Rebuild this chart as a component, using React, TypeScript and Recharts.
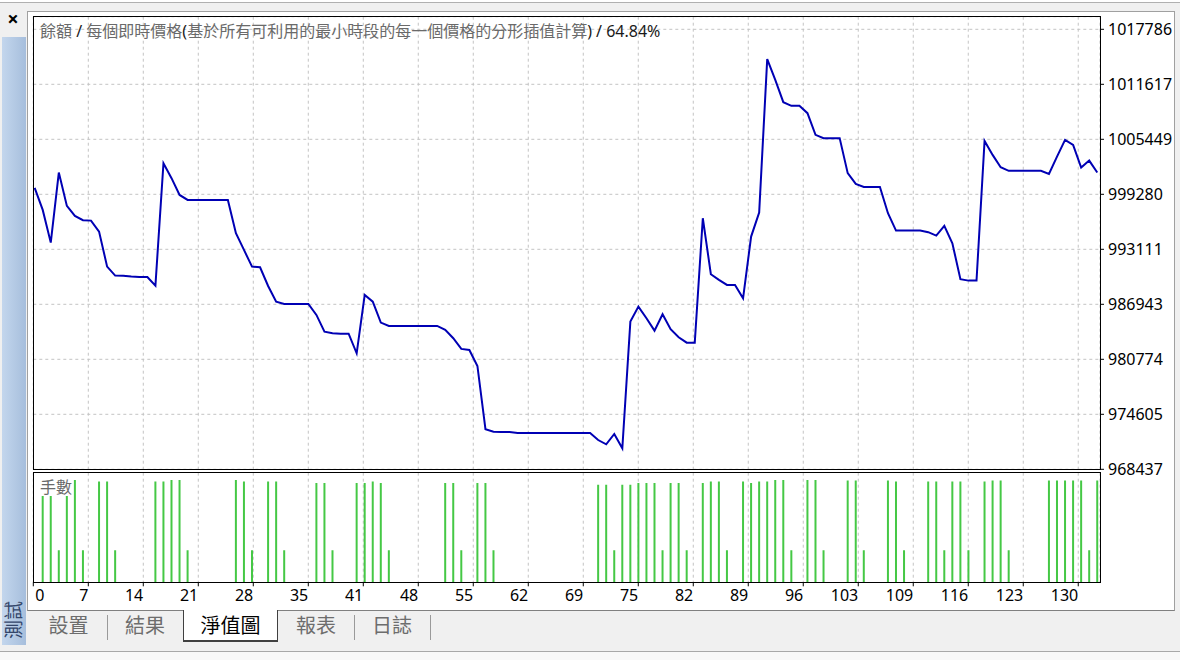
import React from "react";
import { LineChart, Line, BarChart, Bar, XAxis, YAxis, CartesianGrid } from "recharts";

// balance after each trade (trade number = index)
const equity = [
  1000000, 997530, 993860, 1001720, 997980, 996860, 996380, 996330, 995100, 991170,
  990160, 990150, 990050, 990010, 990010, 989040, 1002770, 1001090, 999210, 998650,
  998650, 998650, 998650, 998650, 998650, 994920, 993040, 991170, 991100, 989000,
  987240, 986980, 986980, 986980, 986980, 985750, 983880, 983700, 983650, 983650,
  981450, 987990, 987240, 984890, 984520, 984520, 984520, 984520, 984520, 984520,
  984520, 984070, 983140, 981940, 981820, 980030, 972930, 972660, 972620, 972620,
  972510, 972510, 972510, 972510, 972510, 972510, 972510, 972510, 972510, 972510,
  971720, 971240, 972400, 970790, 985000, 986680, 985380, 983990, 985830, 984150,
  983250, 982640, 982640, 996600, 990320, 989680, 989120, 989120, 987620, 994540,
  997230, 1014440, 1012120, 1009610, 1009200, 1009200, 1008380, 1005950, 1005580, 1005580,
  1005580, 1001650, 1000450, 1000110, 1000110, 1000110, 997160, 995210, 995210, 995210,
  995210, 995030, 994650, 995740, 993790, 989760, 989600, 989600, 1005270, 1003700,
  1002320, 1001910, 1001910, 1001910, 1001910, 1001910, 1001570, 1003510, 1005380, 1004820,
  1002280, 1003060, 1001720,
];

// lots per trade (0 = no bar)
const lots = [
  0, 0.27, 0.27, 0.1, 0.27, 0.32, 0.1, 0, 0.315, 0.315,
  0.1, 0, 0, 0, 0, 0.315, 0.315, 0.32, 0.32, 0.1,
  0, 0, 0, 0, 0, 0.32, 0.315, 0.1, 0, 0.315,
  0.315, 0.1, 0, 0, 0, 0.31, 0.31, 0.1, 0, 0,
  0.31, 0.31, 0.315, 0.31, 0.1, 0, 0, 0, 0, 0,
  0, 0.31, 0.31, 0.1, 0, 0.31, 0.31, 0.1, 0, 0,
  0, 0, 0, 0, 0, 0, 0, 0, 0, 0,
  0.305, 0.305, 0.1, 0.305, 0.305, 0.31, 0.31, 0.31, 0.1, 0.31,
  0.31, 0.1, 0, 0.31, 0.315, 0.315, 0.1, 0, 0.315, 0.31,
  0.315, 0.315, 0.32, 0.32, 0.1, 0, 0.32, 0.32, 0.1, 0,
  0, 0.318, 0.318, 0.1, 0, 0, 0.318, 0.315, 0.1, 0,
  0, 0.315, 0.315, 0.1, 0.315, 0.315, 0.1, 0, 0.315, 0.318,
  0.318, 0.1, 0, 0, 0, 0, 0.318, 0.318, 0.318, 0.318,
  0.318, 0.1, 0.318,
];

const yTickLabels = [968437, 974605, 980774, 986943, 993111, 999280, 1005449, 1011617, 1017786];
const xTickLabels = [0, 7, 14, 21, 28, 35, 41, 48, 55, 62, 69, 75, 82, 89, 96, 103, 109, 116, 123, 130];
const tabs = ["設置", "結果", "淨值圖", "報表", "日誌"];

const X_MIN = -0.17;
const X_MAX = 132.34;
const X_STEP = 6.832;
const Y_MIN = 968437;
const Y_MAX = 1019200;
const LOT_MAX = 0.3425;

const FONT = '"Noto Sans", "Noto Sans CJK TC", sans-serif';
const GRAY = "#6a6a6a";
const DARK = "#1a1a1a";

const xGridTicks = xTickLabels.map((_, k) => X_MIN + k * X_STEP);
const equityData = equity.map((v, i) => ({ i, v }));
const lotData = lots.map((v, i) => ({ i, v: v > 0 ? v : null }));

const XTick = (props: any) => {
  const { x, y, payload, index } = props;
  const k = typeof index === "number" ? index : xGridTicks.indexOf(payload.value);
  const first = k === 0;
  return (
    <text
      x={first ? x + 2 : x}
      y={y}
      dy={15}
      textAnchor={first ? "start" : "end"}
      fontSize={16}
      fill="#000"
      fontFamily={FONT}
    >
      {xTickLabels[k]}
    </text>
  );
};

const NoTick = () => <g />;

const abs = (s: React.CSSProperties): React.CSSProperties => ({ position: "absolute", ...s });

const tabLefts = [30, 107, 183, 278, 354];
const tabWidths = [77, 76, 95, 76, 76];

const App = () => {
  return (
    <div style={abs({ left: 0, top: 0, width: 1180, height: 660, background: "#f0f0f0", overflow: "hidden", fontFamily: FONT, position: "fixed" })}>
      {/* window top edge */}
      <div style={abs({ left: 0, top: 0, width: 1180, height: 2, background: "#fff" })} />
      <div style={abs({ left: 0, top: 2, width: 1180, height: 1, background: "#b0b0b0" })} />

      {/* close button */}
      <div style={abs({ left: 3, top: 9, width: 20, height: 20, lineHeight: "20px", textAlign: "center", fontSize: 20, fontWeight: 700, color: "#000" })}>×</div>

      {/* vertical caption strip */}
      <div style={abs({ left: 2, top: 37, width: 24, height: 608, background: "linear-gradient(to right, #c3d6ed, #a6bedc)", overflow: "hidden" })}>
        <div style={abs({ left: -8, top: 573, width: 40, height: 20, lineHeight: "20px", fontSize: 19, color: "#34466a", transform: "rotate(-90deg)", textAlign: "center" })}>
          測試
        </div>
      </div>

      {/* white chart area */}
      <div style={abs({ left: 27, top: 11, width: 1148, height: 600, background: "#fff", border: "1px solid #a0a0a0", borderBottom: "1px solid #808080", boxSizing: "border-box" })} />

      {/* equity panel */}
      <div style={abs({ left: 0, top: 0 })}>
        <LineChart width={1180} height={480} data={equityData} margin={{ top: 16.7, right: 0, bottom: 10.7, left: 33.3 }}>
          <CartesianGrid stroke="#c4c4c4" strokeDasharray="3 3" />
          <XAxis
            type="number"
            dataKey="i"
            domain={[X_MIN, X_MAX]}
            allowDataOverflow
            ticks={xGridTicks}
            interval={0}
            height={0}
            tick={<NoTick />}
            tickLine={false}
            axisLine={false}
          />
          <YAxis
            orientation="right"
            width={80}
            domain={[Y_MIN, Y_MAX]}
            allowDataOverflow
            ticks={yTickLabels}
            interval={0}
            axisLine={false}
            tickSize={4}
            tickMargin={4}
            tickLine={{ stroke: "#000" }}
            tick={{ fontSize: 16, fill: "#000", fontFamily: FONT }}
          />
          <Line type="linear" dataKey="v" stroke="#0000b4" strokeWidth={2} dot={false} isAnimationActive={false} />
        </LineChart>
      </div>

      {/* lots panel */}
      <div style={abs({ left: 0, top: 460 })}>
        <BarChart width={1180} height={150} data={lotData} margin={{ top: 12.7, right: 80, bottom: 0, left: 33.3 }}>
          <CartesianGrid stroke="#c4c4c4" strokeDasharray="3 3" horizontal={false} />
          <XAxis
            type="number"
            dataKey="i"
            domain={[X_MIN, X_MAX]}
            allowDataOverflow
            ticks={xGridTicks}
            interval={0}
            height={27.7}
            axisLine={false}
            tickSize={4}
            tickMargin={0}
            tickLine={{ stroke: "#000" }}
            tick={<XTick />}
          />
          <YAxis hide domain={[0, LOT_MAX]} allowDataOverflow />
          <Bar dataKey="v" fill="#45c845" barSize={2} isAnimationActive={false} />
        </BarChart>
      </div>

      {/* panel borders */}
      <div style={abs({ left: 33, top: 16, width: 1068, height: 454, border: "1px solid #000", boxSizing: "border-box" })} />
      <div style={abs({ left: 33, top: 472, width: 1068, height: 111, border: "1px solid #000", boxSizing: "border-box" })} />

      {/* titles */}
      <div style={abs({ left: 40, top: 22, fontSize: 16, lineHeight: "19px", whiteSpace: "nowrap" })}>
        <span style={{ color: GRAY }}>餘額</span>
        <span style={{ color: DARK }}> / </span>
        <span style={{ color: GRAY }}>每個即時價格</span>
        <span style={{ color: DARK }}>(</span>
        <span style={{ color: GRAY }}>基於所有可利用的最小時段的每一個價格的分形插值計算</span>
        <span style={{ color: DARK }}>) / 64.84%</span>
      </div>
      <div style={abs({ left: 40, top: 478, fontSize: 16, lineHeight: "19px", color: GRAY, whiteSpace: "nowrap" })}>手數</div>

      {/* tabs */}
      {tabs.map((t, k) => {
        const selected = k === 2;
        return (
          <div
            key={t}
            style={abs({
              left: tabLefts[k],
              top: 610,
              width: tabWidths[k],
              height: 32,
              lineHeight: "32px",
              textAlign: "center",
              fontSize: 20,
              color: selected ? "#000" : "#6d6d6d",
              background: selected ? "#fff" : "transparent",
              borderLeft: selected ? "1px solid #404040" : "none",
              borderRight: selected ? "1px solid #404040" : "none",
              borderBottom: selected ? "2px solid #404040" : "none",
              boxSizing: "border-box",
            })}
          >
            {t}
          </div>
        );
      })}
      {[107, 354, 430].map((x) => (
        <div key={x} style={abs({ left: x, top: 615, width: 1, height: 25, background: "#9a9a9a" })} />
      ))}

      {/* window bottom edge */}
      <div style={abs({ left: 0, top: 651, width: 1180, height: 1, background: "#a8a8a8" })} />
      <div style={abs({ left: 0, top: 652, width: 1180, height: 8, background: "#f8f8f8" })} />
    </div>
  );
};

export default App;
